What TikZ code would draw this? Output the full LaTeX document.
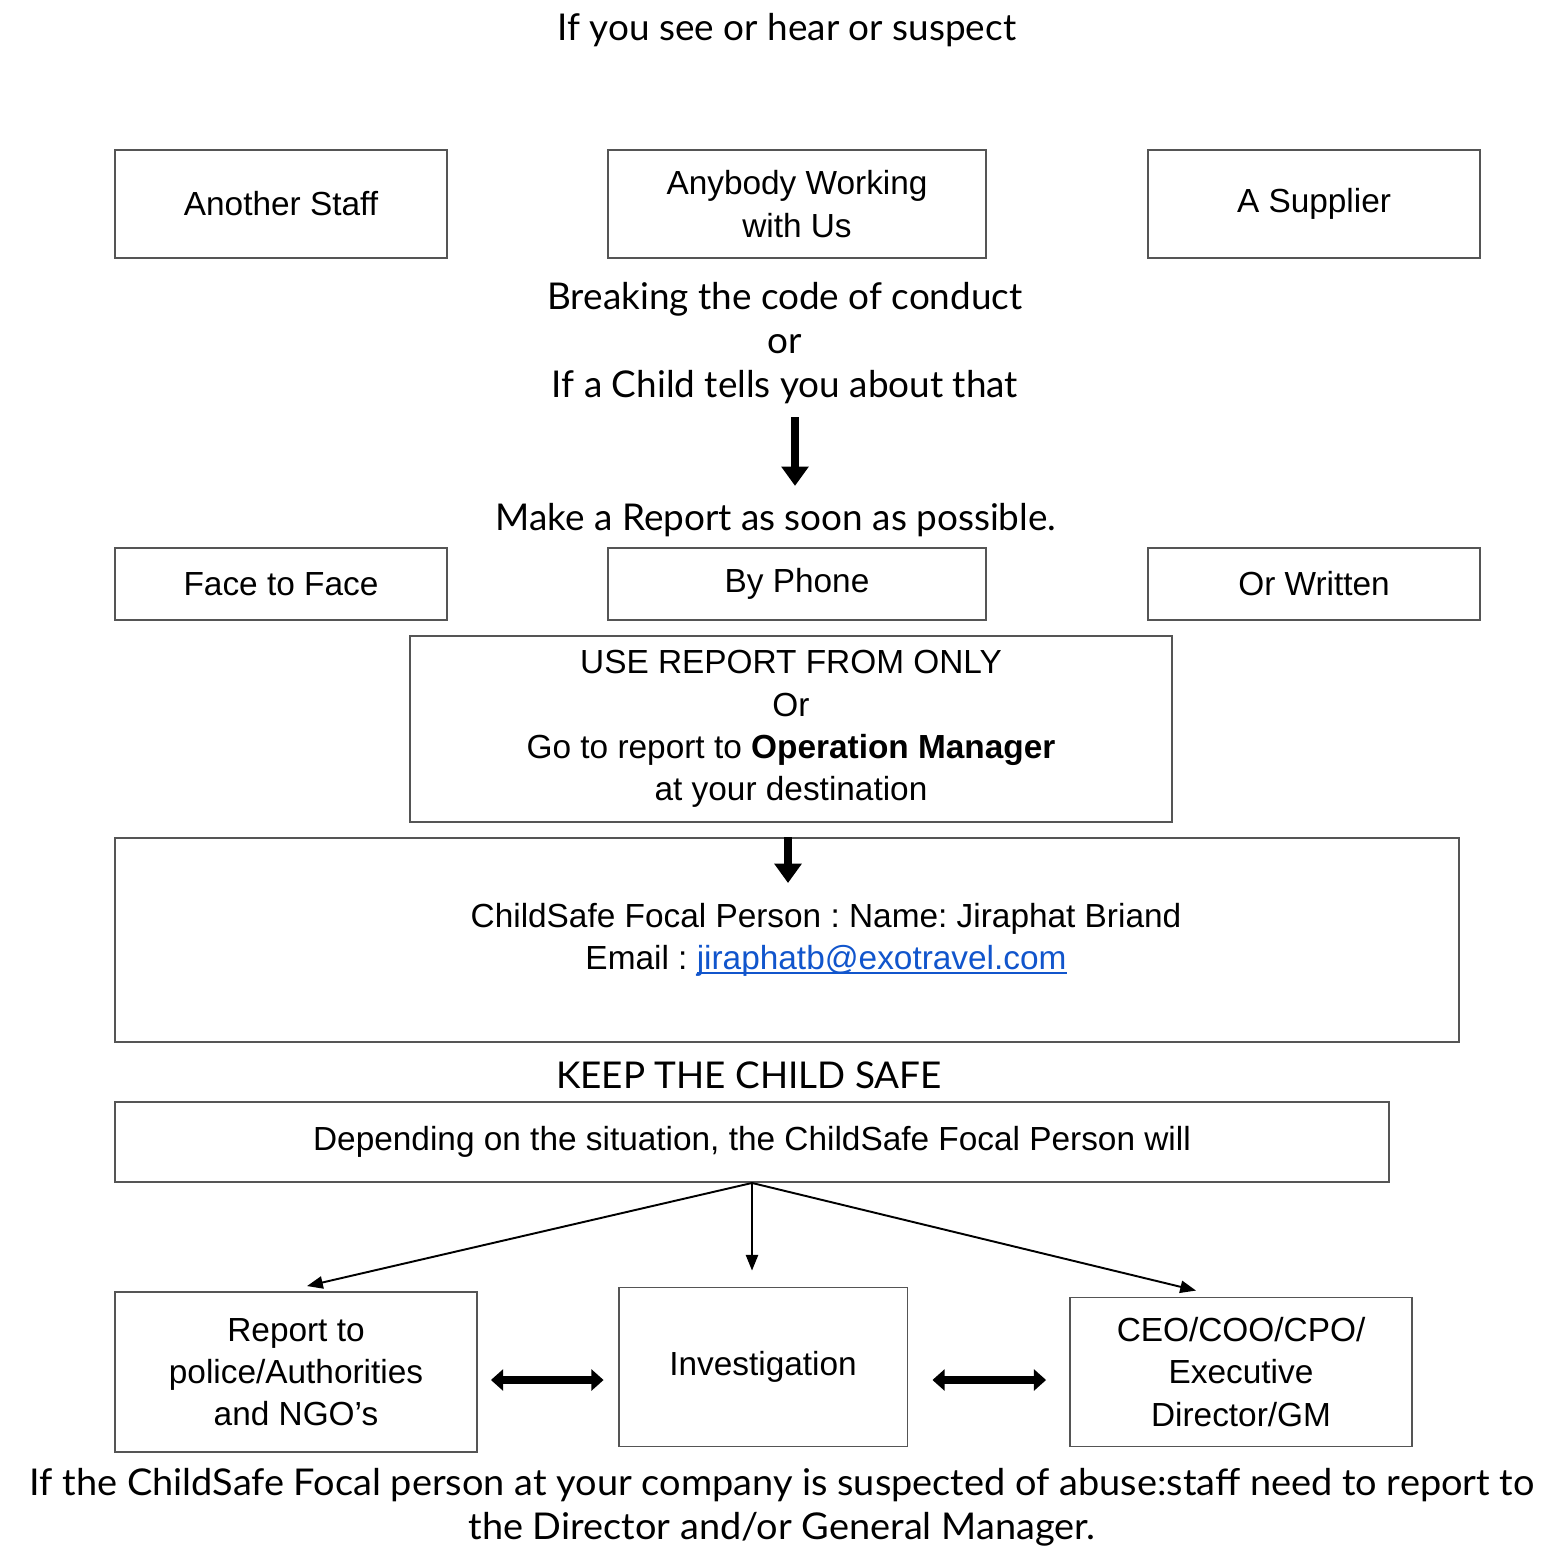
\documentclass[tikz,border=0pt]{standalone}
\usepackage{fontspec}
\usepackage{graphicx}
\setmainfont{Liberation Sans}
\newfontfamily\notefont{Lato}
\usetikzlibrary{positioning,calc,arrows.meta}
\definecolor{boxline}{RGB}{85,85,85}
\definecolor{linkblue}{RGB}{17,85,204}
\newsavebox\linkbox
\newcommand\linkul[1]{\sbox\linkbox{#1}\rlap{\usebox\linkbox}\rule[-2.6pt]{\wd\linkbox}{1.1pt}}
\frenchspacing

\begin{document}
\begin{tikzpicture}[
    x=0.02cm, y=-0.02cm,
    box/.style={draw=boxline, line width=1.1pt, align=center, inner sep=0pt, font=\fontsize{19}{24}\selectfont},
    note/.style={align=center, inner sep=0pt, font=\notefont\fontsize{21}{25}\selectfont},
    bigarrow/.style={line width=4.8pt, -{Triangle[width=15pt, length=11pt]}},
    twoway/.style={line width=4.5pt, {Triangle[width=12pt, length=7pt]}-{Triangle[width=12pt, length=7pt]}},
    branch/.style={line width=1.1pt, -{Triangle[width=7pt, length=9pt]}}
]
\useasboundingbox (0,0) rectangle (1545,1550);

% Who is involved
\node[note] (title) at (787,30) {If you see or hear or suspect};
\node[box, minimum width=6.64cm, minimum height=2.16cm] (staff) at (281,204) {Another Staff};
\node[box, minimum width=7.56cm, minimum height=2.16cm] (anybody) at (797,204) {Anybody Working\\with Us};
\node[box, minimum width=6.64cm, minimum height=2.16cm] (supplier) at (1314,204) {A Supplier};

% What happened
\node[note] (breach) at (785,343) {Breaking the code of conduct\\or\\If a Child tells you about that};
\node[note] (make) at (776,520) {Make a Report as soon as possible.};
\draw[bigarrow, shorten <=0.26cm, shorten >=0.34cm] ([xshift=0.2cm]breach.south) -- ([xshift=0.2cm]breach.south |- make.north);

% How to report
\node[box, minimum width=6.64cm, minimum height=1.44cm] (face) at (281,584) {Face to Face};
\node[box, minimum width=7.56cm, minimum height=1.44cm] (phone) at (797,584) {By Phone};
\node[box, minimum width=6.64cm, minimum height=1.44cm] (written) at (1314,584) {Or Written};
\node[box, minimum width=15.24cm, minimum height=3.72cm] (form) at (791,729)
    {USE REPORT FROM ONLY\\Or\\Go to report to \textbf{Operation Manager}\\at your destination};

% Focal person
\node[box, minimum width=26.88cm, minimum height=4.08cm] (focal) at (787,940) {};
\node[align=center, inner sep=0pt, font=\fontsize{19}{24}\selectfont] (focaltext) at (826,940)
    {ChildSafe Focal Person : Name: Jiraphat Briand\\Email : \textcolor{linkblue}{\linkul{jiraphatb@exotravel.com}}};
\draw[bigarrow, shorten >=0.4cm] ([xshift=-0.06cm]focal.north -| form.south) -- ([xshift=-0.06cm]focaltext.north -| form.south);

% Next steps
\node[note] (safe) at (749,1075) {KEEP THE CHILD SAFE};
\node[box, minimum width=25.5cm, minimum height=1.6cm] (depend) at (752,1142)
    {Depending on the situation, the ChildSafe Focal Person will};
\node[box, minimum width=7.24cm, minimum height=3.2cm] (police) at (296,1372) {Report to\\police/Authorities\\and NGO's};
\node[box, minimum width=5.78cm, minimum height=3.18cm] (invest) at (763,1367) {Investigation};
\node[box, minimum width=6.84cm, minimum height=2.98cm] (ceo) at (1241,1372) {CEO/COO/CPO/\\Executive\\Director/GM};

\draw[branch] (depend.south) -- ($(police.north)+(11,-5)$);
\draw[branch, shorten >=0.32cm] (depend.south) -- (depend.south |- invest.north);
\draw[branch] (depend.south) -- ($(ceo.north)+(-45,-6)$);
\draw[twoway, shorten <=0.26cm, shorten >=0.28cm] ([yshift=-0.16cm]police.east) -- ([yshift=-0.16cm]police.east -| invest.west);
\draw[twoway, shorten <=0.48cm, shorten >=0.46cm] ([yshift=-0.16cm]ceo.west -| invest.east) -- ([yshift=-0.16cm]ceo.west);

% Footnote
\node[note] (footer) at (782,1509) {\resizebox{30.1cm}{\height}{\begin{tabular}{@{}c@{}}If the ChildSafe Focal person at your company is suspected of abuse:staff need to report to\\the Director and/or General Manager.\end{tabular}}};

\end{tikzpicture}
\end{document}
